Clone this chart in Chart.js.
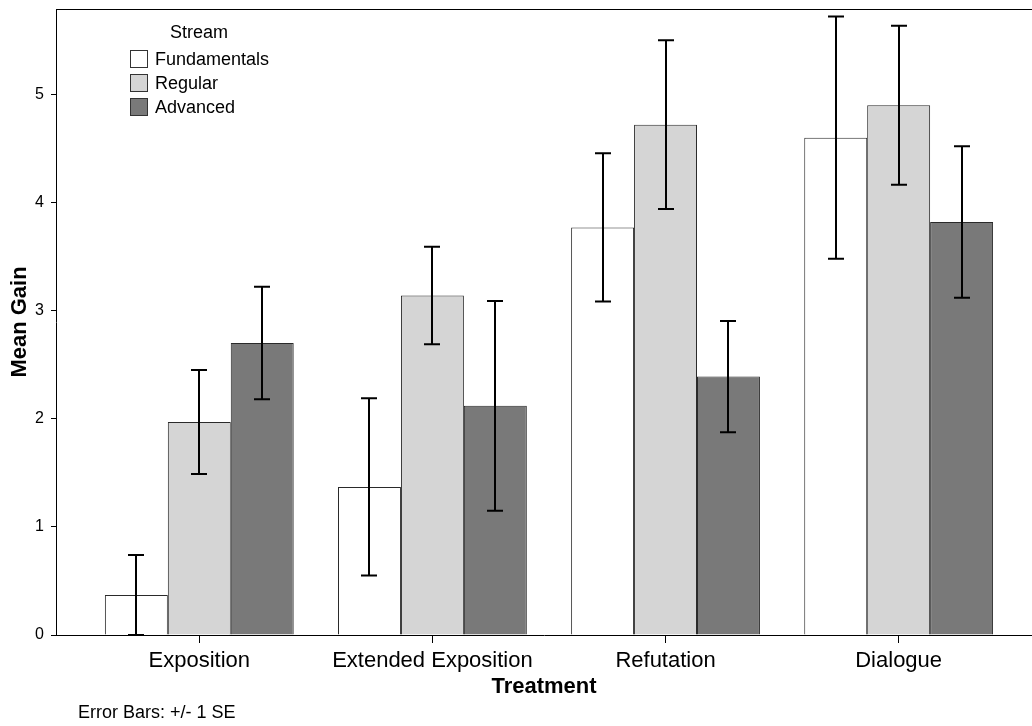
<!DOCTYPE html>
<html><head><meta charset="utf-8">
<script src="https://cdn.jsdelivr.net/npm/chart.js@4/dist/chart.umd.min.js"></script>
<style>html,body{margin:0;padding:0;background:#fff}#wrap{width:1032px;height:726px}</style>
</head><body><div id="wrap"><canvas id="c" width="1032" height="726"></canvas></div>
<script>
const categories = ['Exposition', 'Extended Exposition', 'Refutation', 'Dialogue'];
const seriesNames = ['Fundamentals', 'Regular', 'Advanced'];
const fundamentalsMean = [0.37, 1.37, 3.77, 4.60];
const regularMean = [1.97, 3.14, 4.72, 4.90];
const advancedMean = [2.70, 2.12, 2.39, 3.82];
const fundamentalsSE = [0.37, 0.82, 0.685, 1.12];
const regularSE = [0.48, 0.45, 0.78, 0.735];
const advancedSE = [0.52, 0.97, 0.515, 0.70];
const yTicks = [0, 1, 2, 3, 4, 5];
const seriesColors = ['#ffffff', '#d5d5d5', '#797979'];

const FONT = '"Liberation Sans", Arial, Helvetica, sans-serif';
const means = [fundamentalsMean, regularMean, advancedMean];
const ses = [fundamentalsSE, regularSE, advancedSE];

const errorBars = {
  id: 'errorBars',
  afterDatasetsDraw(chart) {
    const ctx = chart.ctx, y = chart.scales.y;
    ctx.save();
    ctx.strokeStyle = '#000';
    ctx.lineWidth = 2;
    chart.data.datasets.forEach((ds, k) => {
      const meta = chart.getDatasetMeta(k);
      meta.data.forEach((bar, i) => {
        const m = ds.data[i].y, se = ds.se[i];
        const x = Math.round(bar.x);
        const yt = y.getPixelForValue(m + se);
        const yb = y.getPixelForValue(Math.max(0, m - se));
        const cap = 8;
        ctx.beginPath();
        ctx.moveTo(x, yt); ctx.lineTo(x, yb);
        ctx.moveTo(x - cap, yt); ctx.lineTo(x + cap, yt);
        ctx.moveTo(x - cap, yb); ctx.lineTo(x + cap, yb);
        ctx.stroke();
      });
    });
    ctx.restore();
  }
};

const frame = {
  id: 'frame',
  afterDraw(chart) {
    const ctx = chart.ctx, a = chart.chartArea;
    ctx.save();
    ctx.strokeStyle = '#000';
    ctx.lineWidth = 1;
    ctx.beginPath();
    ctx.moveTo(a.left, a.top + 0.5);
    ctx.lineTo(a.right, a.top + 0.5);
    ctx.stroke();
    ctx.restore();
  }
};

const legendPlugin = {
  id: 'customLegend',
  afterDraw(chart) {
    const ctx = chart.ctx;
    ctx.save();
    ctx.fillStyle = '#000';
    ctx.font = '18px ' + FONT;
    ctx.textBaseline = 'middle';
    ctx.textAlign = 'center';
    ctx.fillText('Stream', 199, 33);
    ctx.textAlign = 'left';
    chart.data.datasets.forEach((ds, k) => {
      const by = 50 + k * 24;
      ctx.fillStyle = ds.backgroundColor;
      ctx.fillRect(130, by, 18, 18);
      ctx.strokeStyle = '#333';
      ctx.lineWidth = 1;
      ctx.strokeRect(130.5, by + 0.5, 17, 17);
      ctx.fillStyle = '#000';
      ctx.fillText(ds.label, 155, by + 10);
    });
    ctx.font = '18px ' + FONT;
    ctx.fillText('Error Bars: +/- 1 SE', 78, 713);
    ctx.restore();
  }
};

new Chart(document.getElementById('c').getContext('2d'), {
  type: 'bar',
  data: {
    datasets: seriesNames.map((n, k) => ({
      label: n,
      data: means[k].map((v, i) => ({ x: i, y: v })),
      se: ses[k],
      backgroundColor: seriesColors[k],
      borderColor: '#2a2a2a',
      borderWidth: 1
    }))
  },
  options: {
    responsive: false,
    animation: false,
    devicePixelRatio: 1,
    layout: { padding: { top: 9, left: 0, right: 0, bottom: 0 } },
    datasets: { bar: { categoryPercentage: 0.81, barPercentage: 1.0 } },
    plugins: { legend: { display: false }, tooltip: { enabled: false } },
    scales: {
      x: {
        type: 'linear', min: -0.6147, max: 3.572, offset: false,
        afterBuildTicks: s => { s.ticks = categories.map((c, i) => ({ value: i })); },
        afterFit: s => { s.height = 91; s.paddingLeft = 0; s.paddingRight = 0; s.paddingTop = 0; s.paddingBottom = 0; },
        ticks: { callback: v => categories[v], font: { family: FONT, size: 22 }, color: '#000', padding: 5, maxRotation: 0, autoSkip: false },
        grid: { display: true, offset: false, drawOnChartArea: false, drawTicks: true, tickLength: 8, color: '#000', lineWidth: 1 },
        border: { display: true, color: '#000', width: 1 },
        title: { display: true, text: 'Treatment', font: { family: FONT, size: 22, weight: 'bold' }, color: '#000', padding: { top: 0, bottom: 26 } }
      },
      y: {
        min: 0, max: 5.79,
        afterBuildTicks: s => { s.ticks = yTicks.map(v => ({ value: v })); },
        afterFit: s => { s.width = 56; s.paddingLeft = 0; s.paddingRight = 0; s.paddingTop = 0; s.paddingBottom = 0; },
        ticks: { font: { family: FONT, size: 16 }, color: '#000', padding: 7 },
        grid: { display: true, drawOnChartArea: false, drawTicks: true, tickLength: 5, color: '#000', lineWidth: 1 },
        border: { display: true, color: '#000', width: 1 },
        title: { display: true, text: 'Mean Gain', font: { family: FONT, size: 22, weight: 'bold' }, color: '#000', padding: { top: 7, bottom: 0 } }
      }
    }
  },
  plugins: [errorBars, frame, legendPlugin]
});
</script>
</body></html>
